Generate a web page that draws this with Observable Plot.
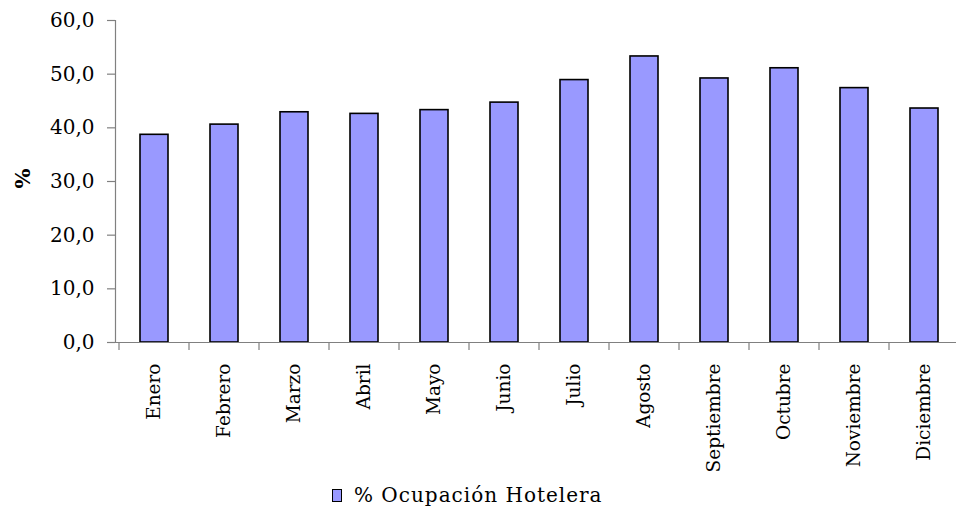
<!DOCTYPE html>
<html>
<head>
<meta charset="utf-8">
<script src="https://cdn.jsdelivr.net/npm/d3@7"></script>
<script src="https://cdn.jsdelivr.net/npm/@observablehq/plot@0.6"></script>
<style>
  html, body { margin: 0; padding: 0; background: #fff; width: 956px; height: 510px; overflow: hidden; }
  #chart svg { display: block; }
  .legend { position: relative; height: 25px; font-family: "DejaVu Serif", serif; font-size: 20px; color: #000; }
  .legend .item { position: absolute; left: 332px; top: -2px; display: flex; align-items: center; white-space: nowrap; letter-spacing: 1px; line-height: 24px; }
  .legend .sw { width: 8px; height: 11px; background: #9999FF; border: 1px solid #000; margin-right: 12px; }
</style>
</head>
<body>
<div id="chart"></div>
<script>
const months = ["Enero","Febrero","Marzo","Abril","Mayo","Junio","Julio","Agosto","Septiembre","Octubre","Noviembre","Diciembre"];
const ocupacion = [38.7, 40.6, 42.9, 42.6, 43.3, 44.7, 48.9, 53.3, 49.2, 51.1, 47.4, 43.6];
const yTicks = [0, 10, 20, 30, 40, 50, 60];
const seriesName = "% Ocupación Hotelera";
const yLabel = "%";

const data = months.map((m, i) => ({month: m, value: ocupacion[i]}));

const W = 956, H = 485;
const fmt = v => v.toFixed(1).replace(".", ",");

const chart = Plot.plot({
  width: W,
  height: H,
  marginLeft: 115,
  marginRight: 0,
  marginTop: 20,
  marginBottom: 143,
  style: {fontFamily: "'DejaVu Serif', serif", fontSize: "20px", color: "#000", background: "#fff"},
  x: {domain: months, range: [114, 963], paddingInner: 0.6, paddingOuter: 0.3, align: 0.5, label: null},
  y: {domain: [0, 60], label: null},
  marks: [
    Plot.barY(data, {x: "month", y: "value", fill: "#9999FF", stroke: "#000", strokeWidth: 1.6}),
    Plot.ruleY([0], {stroke: "#808080", strokeWidth: 1.2}),
    Plot.frame({anchor: "left", stroke: "#808080", strokeWidth: 1.2}),
    Plot.axisY({ticks: yTicks, tickFormat: fmt, tickSize: 8, tickPadding: 13, stroke: "#808080", strokeWidth: 1.2, fill: "#000", fontSize: 20, label: null}),
    Plot.axisX({tickSize: 0, tickRotate: -90, tickPadding: 21, fontSize: 18.5, label: null, fill: "#000"}),
    Plot.text([yLabel], {frameAnchor: "left", textAnchor: "middle", dx: -92, dy: -3, rotate: -90, fontWeight: "bold", fontSize: 21, text: d => d})
  ]
});

// tick marks at the band boundaries, positioned from the band scale
const xs = chart.scale("x");
const ys = chart.scale("y");
const gap = (xs.step - xs.bandwidth) / 2;
const edges = months.map(m => xs.apply(m) - gap)
  .concat([xs.apply(months[months.length - 1]) + xs.bandwidth + gap]);
const g = d3.select(chart).append("g").attr("stroke", "#808080").attr("stroke-width", 1.2);
edges.forEach(ex => {
  g.append("line").attr("x1", ex).attr("x2", ex).attr("y1", ys.apply(0)).attr("y2", ys.apply(0) + 8);
});

document.getElementById("chart").appendChild(chart);
const leg = document.createElement("div");
leg.className = "legend";
leg.innerHTML = `<div class="item"><span class="sw"></span><span>${seriesName}</span></div>`;
document.body.appendChild(leg);
</script>
</body>
</html>
